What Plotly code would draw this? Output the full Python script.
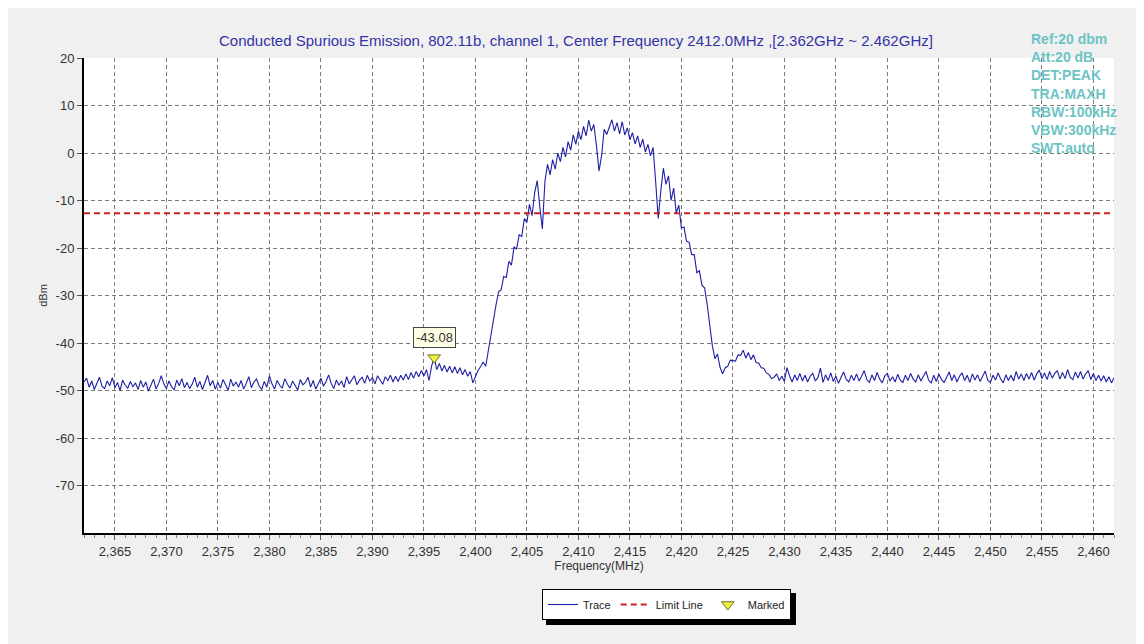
import plotly.graph_objects as go

# ---------------- data ----------------
F_START_MHZ = 2362.0
F_STEP_MHZ = 0.25
TRACE_DBM = [
    # 2362.00 - 2366.75
    -48.2, -47.4, -49.3, -48.0, -49.8, -48.6, -47.2, -49.1, -49.6, -48.0, -49.0, -47.3, -49.4, -48.3, -50.0, -47.8, -48.9, -49.5, -48.1, -49.2,
    # 2367.00 - 2371.75
    -48.4, -49.8, -47.9, -49.3, -48.2, -50.1, -48.8, -47.6, -49.7, -48.5, -46.9, -48.6, -49.6, -48.0, -49.2, -49.9, -47.8, -49.0, -47.5, -49.4,
    # 2372.00 - 2376.75
    -48.3, -49.6, -48.7, -47.2, -49.3, -48.1, -49.8, -48.4, -46.8, -49.0, -47.9, -49.7, -48.3, -49.5, -47.7, -48.8, -50.0, -47.6, -49.1, -48.2,
    # 2377.00 - 2381.75
    -49.3, -47.9, -49.7, -48.5, -47.1, -49.4, -48.2, -47.6, -49.0, -49.8, -48.1, -49.3, -46.9, -48.6, -49.7, -47.9, -48.9, -49.5, -47.5, -48.7,
    # 2382.00 - 2386.75
    -49.5, -48.0, -49.0, -49.9, -47.7, -48.8, -48.3, -47.2, -49.3, -47.9, -49.7, -48.4, -47.4, -49.1, -48.1, -46.7, -48.5, -49.6, -47.8, -48.9,
    # 2387.00 - 2391.75
    -48.0, -49.4, -47.1, -48.6, -47.6, -46.9, -48.8, -47.8, -47.2, -48.5, -46.8, -48.0, -47.3, -48.6, -46.9, -47.8, -48.7, -47.1, -47.9, -46.8,
    # 2392.00 - 2396.75
    -48.2, -47.0, -48.1, -46.8, -47.8, -46.5, -47.7, -46.2, -47.4, -46.0, -47.1, -45.8, -46.9, -45.6, -47.9, -44.8, -43.08, -45.6, -44.3, -45.9,
    # 2397.00 - 2401.75
    -44.7, -46.1, -44.9, -46.3, -45.0, -46.4, -45.2, -46.7, -45.6, -47.0, -46.0, -48.4, -47.2, -45.8, -45.0, -44.0, -44.9, -41.5, -38.0, -35.0,
    # 2402.00 - 2406.75
    -32.0, -29.2, -28.8, -26.0, -26.2, -22.8, -23.6, -19.8, -20.2, -17.2, -17.6, -13.8, -14.6, -10.8, -13.2, -8.4, -5.8, -11.2, -16.0, -6.0,
    # 2407.00 - 2411.75
    -2.4, -4.6, -1.4, -3.4, 0.0, -1.8, 1.2, -0.8, 2.4, 0.6, 3.8, 1.8, 4.6, 2.8, 5.6, 3.6, 6.9, 4.6, 6.0, 1.6,
    # 2412.00 - 2416.75
    -3.8, -0.6, 5.0, 3.9, 5.6, 7.0, 4.6, 6.4, 4.0, 6.6, 3.8, 5.3, 2.8, 4.3, 1.9, 3.6, 1.2, 2.9, 0.2, 1.8,
    # 2417.00 - 2421.75
    -0.6, 1.2, -6.0, -13.8, -8.0, -3.2, -6.6, -4.8, -10.0, -7.4, -12.6, -11.0, -15.8, -15.6, -18.6, -18.8, -21.4, -21.4, -25.2, -24.8,
    # 2422.00 - 2426.75
    -27.9, -28.4, -31.8, -36.0, -40.5, -43.3, -42.3, -45.1, -46.5, -45.2, -44.9, -43.6, -43.7, -43.8, -42.5, -42.6, -41.5, -43.2, -42.0, -43.5,
    # 2427.00 - 2431.75
    -42.5, -44.1, -44.2, -45.2, -45.3, -46.3, -46.6, -47.5, -47.2, -46.5, -47.9, -47.0, -48.1, -45.2, -46.9, -48.2, -46.7, -47.9, -46.4, -48.0,
    # 2432.00 - 2436.75
    -46.8, -48.2, -47.0, -46.4, -48.0, -47.3, -45.3, -48.3, -46.7, -47.9, -46.3, -48.1, -47.0, -48.5, -47.2, -46.1, -47.6, -48.2, -46.8, -47.9,
    # 2437.00 - 2441.75
    -46.5, -48.0, -47.0, -45.8, -47.7, -48.3, -46.7, -47.9, -46.2, -47.6, -48.4, -46.9, -46.4, -48.0, -47.1, -48.2, -46.6, -47.8, -48.3, -46.8,
    # 2442.00 - 2446.75
    -47.9, -46.4, -47.6, -48.2, -46.7, -48.0, -47.0, -46.0, -47.8, -48.4, -46.8, -48.1, -46.5, -47.7, -48.3, -47.0, -46.1, -47.9, -46.7, -48.2,
    # 2447.00 - 2451.75
    -47.0, -46.3, -47.9, -46.8, -48.3, -46.5, -47.8, -46.7, -48.1, -47.0, -45.9, -47.9, -48.3, -46.8, -47.8, -46.3, -47.6, -48.4, -46.7, -47.9,
    # 2452.00 - 2456.75
    -46.8, -48.0, -46.0, -47.6, -46.5, -47.9, -46.4, -47.6, -46.2, -47.8, -46.5, -45.7, -47.5, -46.3, -47.7, -46.0, -47.4, -46.4, -45.8, -47.6,
    # 2457.00 - 2461.75
    -46.2, -47.5, -45.6, -47.2, -47.7, -46.1, -47.4, -46.0, -47.6, -46.5, -45.8, -47.7, -46.4, -47.9, -46.8, -48.0, -46.9, -48.2, -47.1, -48.4,
    # 2462.00
    -47.3,
]
FREQ_MHZ = [F_START_MHZ + F_STEP_MHZ * i for i in range(len(TRACE_DBM))]

LIMIT_DBM = -12.7
MARKER_FREQ = [2396.0]
MARKER_DBM = [-43.08]
MARKER_LABEL = "-43.08"

X_TICKS = [2365, 2370, 2375, 2380, 2385, 2390, 2395, 2400, 2405, 2410, 2415,
           2420, 2425, 2430, 2435, 2440, 2445, 2450, 2455, 2460]
X_TICK_TEXT = ["2,365", "2,370", "2,375", "2,380", "2,385", "2,390", "2,395", "2,400",
               "2,405", "2,410", "2,415", "2,420", "2,425", "2,430", "2,435", "2,440",
               "2,445", "2,450", "2,455", "2,460"]
Y_TICKS = [20, 10, 0, -10, -20, -30, -40, -50, -60, -70]
Y_TICK_TEXT = ["20", "10", "0", "-10", "-20", "-30", "-40", "-50", "-60", "-70"]

TITLE = "Conducted Spurious Emission, 802.11b, channel 1, Center Frequency 2412.0MHz ,[2.362GHz ~ 2.462GHz]"
INFO_LINES = ["Ref:20 dbm", "Att:20 dB", "DET:PEAK", "TRA:MAXH", "RBW:100kHz", "VBW:300kHz", "SWT:auto"]

# ---------------- figure ----------------
OFF = 8                      # page body margin
W, H = 1144 - OFF, 644 - OFF
ML, MR, MT, MB = 84 - OFF, 30, 58 - OFF, 111
PW, PH = W - ML - MR, H - MT - MB

def px_x(p):                 # screen px -> paper x
    return (p - OFF - ML) / PW

def px_y(p):                 # screen px -> paper y
    return (H - MB - (p - OFF)) / PH

FONT = "Liberation Sans, Arial, sans-serif"

fig = go.Figure()
fig.add_trace(go.Scatter(
    x=FREQ_MHZ, y=TRACE_DBM, mode="lines", name="Trace",
    line=dict(color="#1e1ea6", width=1.1),
))
fig.add_trace(go.Scatter(
    x=[FREQ_MHZ[0], FREQ_MHZ[-1]], y=[LIMIT_DBM, LIMIT_DBM], mode="lines",
    name="Limit Line", line=dict(color="#cc2020", width=2, dash="6px,4px"),
))
fig.add_trace(go.Scatter(
    x=MARKER_FREQ, y=MARKER_DBM, mode="markers", name="Marked",
    marker=dict(symbol="triangle-down", size=11, color="#f0f040",
                line=dict(color="#707020", width=1)),
))

fig.add_annotation(
    x=MARKER_FREQ[0], y=MARKER_DBM[0], text=MARKER_LABEL, showarrow=False,
    yshift=20, bgcolor="#ffffe6", bordercolor="#444444", borderwidth=1, borderpad=2,
    font=dict(family=FONT, size=13, color="#333333"),
)
fig.add_annotation(
    xref="paper", yref="paper", x=px_x(576), y=px_y(40), text=TITLE,
    showarrow=False, xanchor="center", yanchor="middle",
    font=dict(family=FONT, size=15, color="#3333a8"),
)
fig.add_annotation(
    xref="paper", yref="paper", x=px_x(1029), y=px_y(29), text="<br>".join(INFO_LINES),
    showarrow=False, xanchor="left", yanchor="top", align="left",
    font=dict(family=FONT, size=14, color="#6cc4c4", weight="bold"),
)

# legend drop shadow
LEG_L, LEG_T, LEG_W, LEG_H = 542, 589, 250, 32
shapes = [
    dict(type="rect", xref="paper", yref="paper",
         x0=px_x(LEG_L + 4), x1=px_x(LEG_L + LEG_W + 4),
         y0=px_y(LEG_T + LEG_H + 4), y1=px_y(LEG_T + 4),
         fillcolor="black", line=dict(width=0), layer="above"),
]

fig.update_layout(
    width=W, height=H,
    margin=dict(l=ML, r=MR, t=MT, b=MB),
    paper_bgcolor="#f0f0f0", plot_bgcolor="white",
    font=dict(family=FONT, size=12, color="#333333"),
    shapes=shapes,
    showlegend=True,
    legend=dict(
        orientation="h", x=px_x(LEG_L), xanchor="left", y=px_y(LEG_T), yanchor="top",
        bgcolor="white", bordercolor="black", borderwidth=1,
        font=dict(family=FONT, size=11, color="#222222"),
        itemwidth=30, tracegroupgap=0,
    ),
    xaxis=dict(
        range=[FREQ_MHZ[0], FREQ_MHZ[-1]], tickmode="array", tickvals=X_TICKS, ticktext=X_TICK_TEXT,
        showgrid=True, gridcolor="#7a7a7a", griddash="4px,3px", gridwidth=1,
        showline=True, linecolor="black", linewidth=2, zeroline=False,
        ticks="outside", ticklen=5, tickcolor="#555555",
        minor=dict(dtick=1, ticks="outside", ticklen=3, tickcolor="#888888", showgrid=False),
        tickfont=dict(family=FONT, size=13, color="#333333"),
        title=dict(text="Frequency(MHz)", font=dict(family=FONT, size=12, color="#333333"), standoff=3),
    ),
    yaxis=dict(
        range=[-80, 20], tickmode="array", tickvals=Y_TICKS, ticktext=Y_TICK_TEXT,
        showgrid=True, gridcolor="#7a7a7a", griddash="4px,3px", gridwidth=1,
        showline=True, linecolor="black", linewidth=2, zeroline=False,
        ticks="outside", ticklen=5, tickcolor="#555555",
        tickfont=dict(family=FONT, size=13, color="#333333"),
        title=dict(text="dBm", font=dict(family=FONT, size=11, color="#333333"), standoff=6),
    ),
)

fig.write_html("out.html")
